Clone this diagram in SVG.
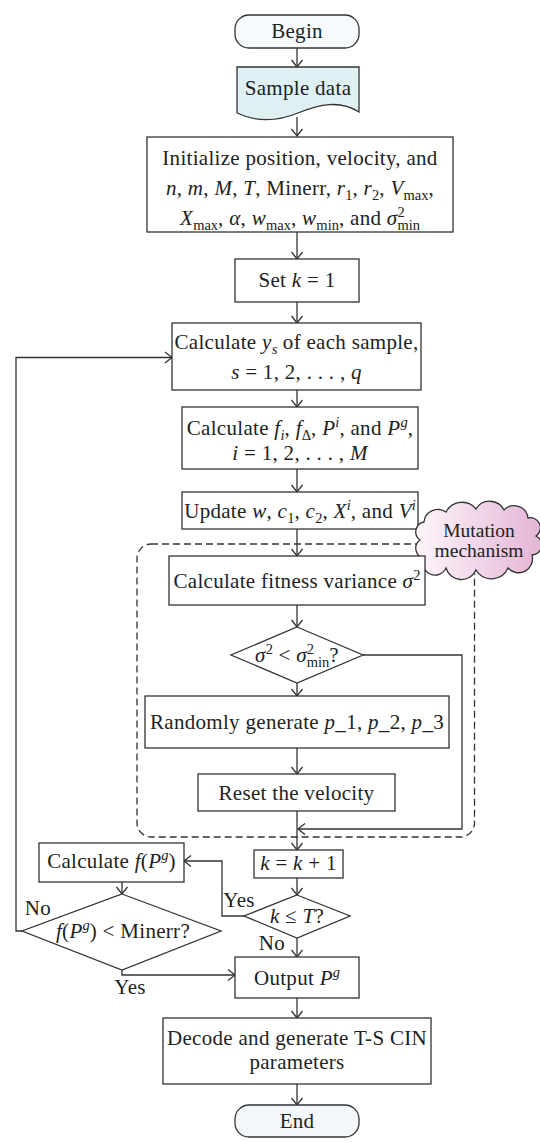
<svg xmlns="http://www.w3.org/2000/svg" width="540" height="1142" viewBox="0 0 540 1142">
<style>
.b{fill:#fff;stroke:#333;stroke-width:1.3}
.t{font-family:"Liberation Serif","Times New Roman",serif;font-size:21px;letter-spacing:0.3px;fill:#222;text-anchor:middle}
.i{font-style:italic}
.s{font-size:14.5px;font-style:normal;letter-spacing:0}
.c{fill:none;stroke:#333;stroke-width:1.3}
.d{fill:none;stroke:#333;stroke-width:1.3;stroke-dasharray:7 4}
.m{font-size:19.5px;letter-spacing:0}
</style>
<defs>
<marker id="a" markerWidth="10" markerHeight="14" viewBox="-1 -7 10 14" refX="7" refY="0" orient="auto" markerUnits="userSpaceOnUse">
<path d="M0,-5.5 L7,0 L0,5.5" fill="none" stroke="#333" stroke-width="1.3"/>
</marker>
<linearGradient id="pink" x1="0" y1="0" x2="1" y2="0">
<stop offset="0" stop-color="#fdf6fa"/><stop offset="1" stop-color="#e4b4d6"/>
</linearGradient>
</defs>

<g id="mutation-region">
<rect class="d" x="137" y="544" width="337.5" height="293" rx="14"/>
</g>

<g id="connectors" class="c" marker-end="url(#a)">
<path d="M297,48 V67"/>
<path d="M297,117 V136"/>
<path d="M297,232 V259"/>
<path d="M297,302 V323"/>
<path d="M297,390 V407"/>
<path d="M297,469 V492"/>
<path d="M297,529 V556"/>
<path d="M297,605 V627"/>
<path d="M297,683 V696"/>
<path d="M297,748 V774"/>
<path d="M297,811 V850"/>
<path d="M363,655 H462 V829 H298"/>
<path d="M297,878 V895"/>
<path d="M297,938 V957"/>
<path d="M297,998 V1018"/>
<path d="M297,1084 V1105"/>
<path d="M244,916 H222 V861 H184"/>
<path d="M122,882 V894"/>
<path d="M22,931 H16 V357.5 H172"/>
<path d="M122,970 V975 H235"/>
</g>

<g id="begin">
<rect x="235" y="15" width="124" height="33" rx="14" fill="#f7fafc" stroke="#333" stroke-width="1.3"/>
<text class="t" x="297" y="38">Begin</text>
</g>

<g id="sample-data">
<path d="M237,67 H359 V112 C340,100 320,104 298,113 C276,122 256,122 237,113 Z" fill="#dff0f3" stroke="#333" stroke-width="1.3"/>
<text class="t" x="298" y="95">Sample data</text>
</g>

<g id="initialize">
<rect class="b" x="147" y="137" width="306" height="95"/>
<text class="t" x="300" y="165">Initialize position, velocity, and</text>
<text class="t" x="300" y="195"><tspan class="i">n</tspan>, <tspan class="i">m</tspan>, <tspan class="i">M</tspan>, <tspan class="i">T</tspan>, Minerr, <tspan class="i">r</tspan><tspan class="s" baseline-shift="-5">1</tspan>, <tspan class="i">r</tspan><tspan class="s" baseline-shift="-5">2</tspan>, <tspan class="i">V</tspan><tspan class="s" baseline-shift="-5">max</tspan>,</text>
<text class="t" x="300" y="225"><tspan class="i">X</tspan><tspan class="s" baseline-shift="-5">max</tspan>, <tspan class="i">α</tspan>, <tspan class="i">w</tspan><tspan class="s" baseline-shift="-5">max</tspan>, <tspan class="i">w</tspan><tspan class="s" baseline-shift="-5">min</tspan>, and <tspan class="i">σ</tspan><tspan class="s" baseline-shift="8">2</tspan><tspan class="s" dx="-7.3" baseline-shift="-5">min</tspan></text>
</g>

<g id="set-k">
<rect class="b" x="235" y="259" width="124" height="43"/>
<text class="t" x="297" y="287">Set <tspan class="i">k</tspan> = 1</text>
</g>

<g id="calc-ys">
<rect class="b" x="172" y="323" width="249" height="67"/>
<text class="t" x="296.5" y="349">Calculate <tspan class="i">y</tspan><tspan class="s" style="font-style:italic" baseline-shift="-5">s</tspan> of each sample,</text>
<text class="t" x="296.5" y="379"><tspan class="i">s</tspan> = 1, 2, . . . , <tspan class="i">q</tspan></text>
</g>

<g id="calc-fi">
<rect class="b" x="182" y="407" width="236" height="62"/>
<text class="t" x="300" y="435">Calculate <tspan class="i">f</tspan><tspan class="s" style="font-style:italic" baseline-shift="-5">i</tspan>, <tspan class="i">f</tspan><tspan class="s" baseline-shift="-5">Δ</tspan>, <tspan class="i">P</tspan><tspan class="s" style="font-style:italic" baseline-shift="8">i</tspan>, and <tspan class="i">P</tspan><tspan class="s" style="font-style:italic" baseline-shift="8">g</tspan>,</text>
<text class="t" x="300" y="460"><tspan class="i">i</tspan> = 1, 2, . . . , <tspan class="i">M</tspan></text>
</g>

<g id="update">
<rect class="b" x="182" y="492" width="236" height="37"/>
<text class="t" x="300" y="518">Update <tspan class="i">w</tspan>, <tspan class="i">c</tspan><tspan class="s" baseline-shift="-5">1</tspan>, <tspan class="i">c</tspan><tspan class="s" baseline-shift="-5">2</tspan>, <tspan class="i">X</tspan><tspan class="s" style="font-style:italic" baseline-shift="8">i</tspan>, and <tspan class="i">V</tspan><tspan class="s" style="font-style:italic" baseline-shift="8">i</tspan></text>
</g>

<g id="mutation-label">
<path d="M420,540 A10,10 0 0 1 424,522 A14,14 0 0 1 446,512 A18,18 0 0 1 476,509 A16,16 0 0 1 504,510 A14,14 0 0 1 528,518 A10,10 0 0 1 536,536 A10,10 0 0 1 532,555 A14,14 0 0 1 508,568 A18,18 0 0 1 476,570 A16,16 0 0 1 446,568 A12,12 0 0 1 424,558 A10,10 0 0 1 420,540 Z" fill="url(#pink)" stroke="#333" stroke-width="1.3"/>
<text class="t m" x="479" y="537">Mutation</text>
<text class="t m" x="479" y="557">mechanism</text>
</g>

<g id="calc-fitness">
<rect class="b" x="169" y="556" width="256" height="49"/>
<text class="t" x="297" y="588">Calculate fitness variance <tspan class="i">σ</tspan><tspan class="s" baseline-shift="8">2</tspan></text>
</g>

<g id="sigma-check">
<polygon class="b" points="297,627 363,655 297,683 231,655"/>
<text class="t" x="297" y="662"><tspan class="i">σ</tspan><tspan class="s" baseline-shift="8">2</tspan> &lt; <tspan class="i">σ</tspan><tspan class="s" baseline-shift="8">2</tspan><tspan class="s" dx="-7.3" baseline-shift="-5">min</tspan>?</text>
</g>

<g id="random">
<rect class="b" x="145" y="696" width="304" height="52"/>
<text class="t" x="297" y="729">Randomly generate <tspan class="i">p</tspan>_1, <tspan class="i">p</tspan>_2, <tspan class="i">p</tspan>_3</text>
</g>

<g id="reset">
<rect class="b" x="198" y="774" width="197" height="37"/>
<text class="t" x="296.5" y="800">Reset the velocity</text>
</g>

<g id="k-inc">
<rect class="b" x="254" y="850" width="89" height="28"/>
<text class="t" x="298.5" y="870"><tspan class="i">k</tspan> = <tspan class="i">k</tspan> + 1</text>
</g>

<g id="k-check">
<polygon class="b" points="297,895 350,916 297,938 244,916"/>
<text class="t" x="297" y="923"><tspan class="i">k</tspan> ≤ <tspan class="i">T</tspan>?</text>
</g>

<g id="calc-fpg">
<rect class="b" x="39" y="843" width="145" height="39"/>
<text class="t" x="111.5" y="868">Calculate <tspan class="i">f</tspan>(<tspan class="i">P</tspan><tspan class="s" style="font-style:italic" baseline-shift="8">g</tspan>)</text>
</g>

<g id="minerr-check">
<polygon class="b" points="122,894 221,931 122,970 22,931"/>
<text class="t" x="123" y="938"><tspan class="i">f</tspan>(<tspan class="i">P</tspan><tspan class="s" style="font-style:italic" baseline-shift="8">g</tspan>) &lt; Minerr?</text>
</g>

<g id="output">
<rect class="b" x="235" y="957" width="124" height="41"/>
<text class="t" x="297" y="985">Output <tspan class="i">P</tspan><tspan class="s" style="font-style:italic" baseline-shift="8">g</tspan></text>
</g>

<g id="decode">
<rect class="b" x="163" y="1018" width="268" height="66"/>
<text class="t" x="297" y="1045">Decode and generate T-S CIN</text>
<text class="t" x="297" y="1069">parameters</text>
</g>

<g id="end">
<rect x="235" y="1105" width="124" height="32" rx="14" fill="#f3f7fa" stroke="#333" stroke-width="1.3"/>
<text class="t" x="297" y="1128">End</text>
</g>

<g id="labels">
<text class="t" x="239" y="907">Yes</text>
<text class="t" x="38" y="915">No</text>
<text class="t" x="272" y="950">No</text>
<text class="t" x="130" y="994">Yes</text>
</g>
</svg>
